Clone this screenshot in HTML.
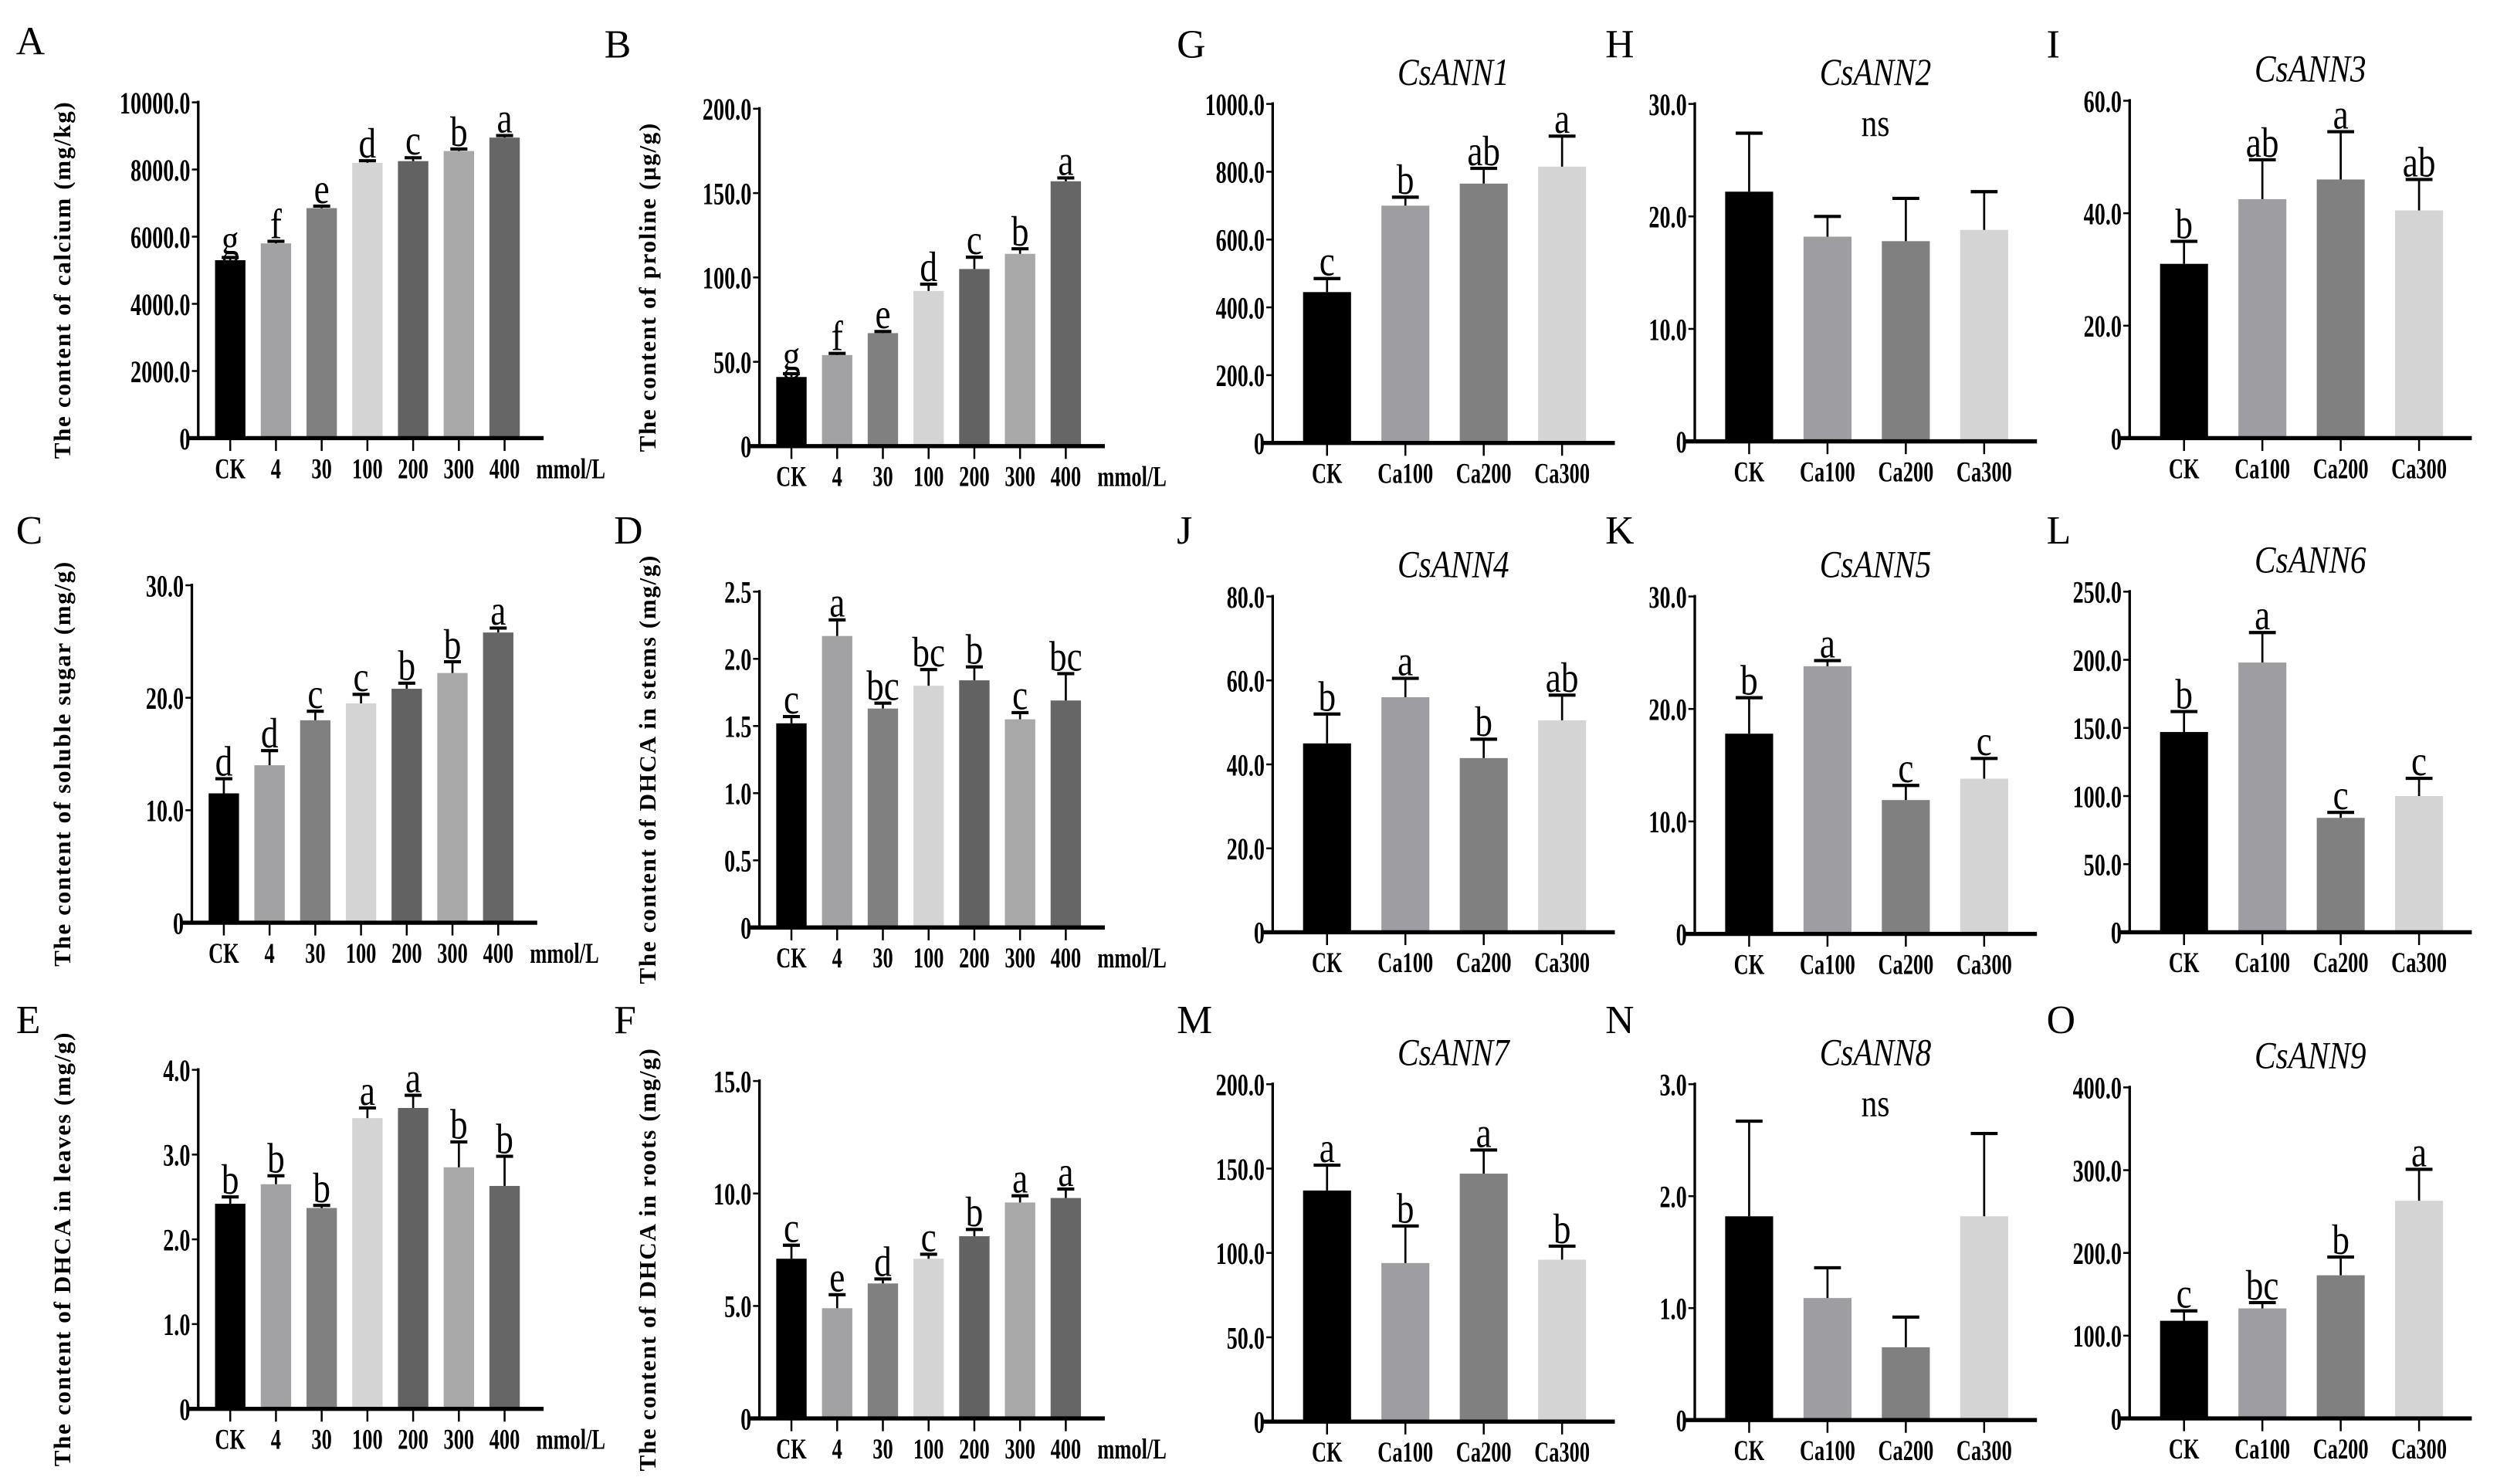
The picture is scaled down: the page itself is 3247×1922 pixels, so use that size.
<!DOCTYPE html>
<html><head><meta charset="utf-8"><style>
html,body{margin:0;padding:0;background:#fff;}
svg{display:block;}
text{font-family:"Liberation Serif",serif;}
</style></head><body>
<svg id="fig" xmlns="http://www.w3.org/2000/svg" width="3247" height="1922" viewBox="0 0 1568 928" preserveAspectRatio="none"></svg>
<script>
const leftCats=["CK","4","30","100","200","300","400"];
const rightCats=["CK","Ca100","Ca200","Ca300"];
const leftColors=["#000","#a2a2a4","#808080","#d4d4d4","#626262","#a8a8a8","#666"];
const rightColors=["#000","#9e9ea2","#808080","#d4d4d4"];

const aVals=[5300,5800,6850,8200,8250,8550,8950];
const aErr=[80,60,60,60,100,60,60];
const aLet=["g","f","e","d","c","b","a"];
const aTicks=[0,2000,4000,6000,8000,10000];
const bVals=[41,54,67,92,105,114,157];
const bErr=[2,1,1,4,7,3,2];
const bLet=["g","f","e","d","c","b","a"];
const bTicks=[0,50,100,150,200];
const cVals=[11.5,14,18,19.5,20.8,22.2,25.8];
const cErr=[1.3,1.3,0.8,0.8,0.5,1,0.4];
const cLet=["d","d","c","c","b","b","a"];
const cTicks=[0,10,20,30];
const dVals=[1.52,2.17,1.63,1.8,1.84,1.55,1.69];
const dErr=[0.05,0.12,0.04,0.12,0.1,0.05,0.2];
const dLet=["c","a","bc","bc","b","c","bc"];
const dTicks=[0,0.5,1,1.5,2,2.5];
const eVals=[2.42,2.65,2.37,3.43,3.55,2.85,2.63];
const eErr=[0.08,0.1,0.03,0.12,0.15,0.3,0.35];
const eLet=["b","b","b","a","a","b","b"];
const eTicks=[0,1,2,3,4];
const fVals=[7.1,4.9,6.0,7.1,8.1,9.6,9.8];
const fErr=[0.6,0.6,0.2,0.2,0.3,0.3,0.4];
const fLet=["c","e","d","c","b","a","a"];
const fTicks=[0,5,10,15];
const gVals=[445,700,765,815];
const gErr=[40,25,45,90];
const gLet=["c","b","ab","a"];
const gTicks=[0,200,400,600,800,1000];
const hVals=[22.2,18.2,17.8,18.8];
const hErr=[5.2,1.8,3.8,3.4];
const hTicks=[0,10,20,30];
const iVals=[31,42.5,46,40.5];
const iErr=[4,7,8.5,5.5];
const iLet=["b","ab","a","ab"];
const iTicks=[0,20,40,60];
const jVals=[45,56,41.5,50.5];
const jErr=[7,4.5,4.5,6];
const jLet=["b","a","b","ab"];
const jTicks=[0,20,40,60,80];
const kVals=[17.8,23.8,11.9,13.8];
const kErr=[3.2,0.5,1.3,1.8];
const kLet=["b","a","c","c"];
const kTicks=[0,10,20,30];
const lVals=[147,198,84,100];
const lErr=[15,22,4,13];
const lLet=["b","a","c","c"];
const lTicks=[0,50,100,150,200,250];
const mVals=[137,94,147,96];
const mErr=[15,22,14,8];
const mLet=["a","b","a","b"];
const mTicks=[0,50,100,150,200];
const nVals=[1.82,1.09,0.65,1.82];
const nErr=[0.85,0.27,0.27,0.74];
const nTicks=[0,1,2,3];
const oVals=[118,133,173,263];
const oErr=[12,7,22,38];
const oLet=["c","bc","b","a"];
const oTicks=[0,100,200,300,400];

const svg=document.getElementById('fig');
const NS="http://www.w3.org/2000/svg";
function mk(tag,attrs,parent){const e=document.createElementNS(NS,tag);for(const k in attrs)e.setAttribute(k,attrs[k]);(parent||svg).appendChild(e);return e;}
function fmt(v){return v===0?"0":v.toFixed(1);}
function sq(x,y,sx,sy){return `translate(${x},${y}) scale(${sx},${sy}) translate(${-x},${-y})`;}

function panel(p){
  const g=mk('g',{});
  
  
  const max=p.ticks[p.ticks.length-1];
  const ys=v=>p.y0-(v/max)*(p.y0-p.yTop);
  const n=p.vals.length;
  const xs=i=>p.x0+p.first+i*p.step;
  const pl=mk('text',{x:p.lx,y:p.ly,'font-size':25},g);pl.textContent=p.letter;
  
  
  for(let i=0;i<n;i++){
    const top=ys(p.vals[i]);
    const r=mk('rect',{x:xs(i)-p.bw/2,y:top,width:p.bw,height:p.y0-top,fill:p.colors[i]},g);
    
    
    const et=ys(p.vals[i]+p.err[i]);
    mk('line',{x1:xs(i),x2:xs(i),y1:top,y2:et,stroke:'#000','stroke-width':1.3},g);
    mk('line',{x1:xs(i)-p.bw*0.28,x2:xs(i)+p.bw*0.28,y1:et,y2:et,stroke:'#000','stroke-width':2},g);
    if(p.lets){
      const t=mk('text',{x:xs(i),y:et-2,'text-anchor':'middle','font-size':p.lfs,transform:sq(xs(i),et-2,0.95,1.15)},g);
      t.textContent=p.lets[i];
      
      
    }
    mk('line',{x1:xs(i),x2:xs(i),y1:p.y0,y2:p.y0+8,stroke:'#000','stroke-width':1.2},g);
    const xl=mk('text',{x:xs(i),y:p.y0+p.xlo,'text-anchor':'middle','font-size':15,'font-weight':'bold',transform:sq(xs(i),p.y0+p.xlo,0.85,1.2)},g);
    xl.textContent=p.cats[i];
    
    
  }
  mk('line',{x1:p.x0,x2:p.x0,y1:p.yTop-1,y2:p.y0,stroke:'#000','stroke-width':1.6},g);
  mk('line',{x1:p.x0-6,x2:p.xEnd,y1:p.y0,y2:p.y0,stroke:'#000','stroke-width':2.6},g);
  p.ticks.forEach(tv=>{
    const y=ys(tv);
    mk('line',{x1:p.x0-4,x2:p.x0,y1:y,y2:y,stroke:'#000','stroke-width':1.2},g);
    const t=mk('text',{x:p.x0-5,y:y+6,'text-anchor':'end','font-size':17,'font-weight':'bold',transform:sq(p.x0-5,y,0.8,1.15)},g);
    t.textContent=fmt(tv);
    
    
  });
  if(p.unit){
    const u=mk('text',{x:p.unitX,y:p.y0+p.xlo,'text-anchor':'middle','font-size':15,'font-weight':'bold',transform:sq(p.unitX,p.y0+p.xlo,0.85,1.2)},g);
    u.textContent='mmol/L';
    
    
  }
  if(p.ytitle){
    const cx=p.x0-p.tOff, cy=(p.yTop+p.y0)/2+6;
    const t=mk('text',{x:cx,y:cy,'text-anchor':'middle','font-size':15,'font-weight':'bold',transform:`rotate(-90 ${cx} ${cy})`,'letter-spacing':'0.8'},g);
    t.textContent=p.ytitle;
    
    
  }
  if(p.title){
    const tx=(p.x0+p.xEnd)/2+6, ty=p.yTop-12;
    const t=mk('text',{x:tx,y:ty,'text-anchor':'middle','font-size':21,'font-style':'italic',transform:sq(tx,ty,0.95,1.15)},g);
    t.textContent=p.title;
    
    
  }
  if(p.ns){
    const tx=(p.x0+p.xEnd)/2+6, ty=p.yTop+20;
    const t=mk('text',{x:tx,y:ty,'text-anchor':'middle','font-size':21,transform:sq(tx,ty,0.95,1.15)},g);
    t.textContent='ns';
    
    
  }
}
function left(letter,lx,ly,x0,yTop,y0,vals,err,lets,ticks,ytitle,tOff){
  panel({letter,lx,ly,x0,yTop,y0,vals,err,lets,ticks,ytitle,tOff,cats:leftCats,colors:leftColors,first:20,step:28.6,bw:19,xEnd:x0+216,xlo:25,lfs:23,unit:true,unitX:x0+233});
}
function right(letter,lx,ly,x0,yTop,y0,vals,err,lets,ticks,title,ns){
  panel({letter,lx,ly,x0,yTop,y0,vals,err,lets,ticks,title,ns,cats:rightCats,colors:rightColors,first:34,step:49,bw:30,xEnd:x0+214,xlo:25,lfs:23});
}
left('A',10,34,124,64,274,aVals,aErr,aLet,aTicks,'The content of calcium (mg/kg)',80);
left('B',378,36,475,68,279,bVals,bErr,bLet,bTicks,'The content of proline (μg/g)',65);
left('C',10,340,120,366,577,cVals,cErr,cLet,cTicks,'The content of soluble sugar (mg/g)',76);
left('D',384,340,475,370,580,dVals,dErr,dLet,dTicks,'The content of DHCA in stems (mg/g)',65);
left('E',10,646,124,669,881,eVals,eErr,eLet,eTicks,'The content of DHCA in leaves (mg/g)',80);
left('F',384,646,475,676,887,fVals,fErr,fLet,fTicks,'The content of DHCA in roots (mg/g)',65);
right('G',736,36,796,65,277,gVals,gErr,gLet,gTicks,'CsANN1',false);
right('H',1004,36,1060,65,276,hVals,hErr,null,hTicks,'CsANN2',true);
right('I',1280,36,1332,63,274,iVals,iErr,iLet,iTicks,'CsANN3',false);
right('J',736,340,796,373,583,jVals,jErr,jLet,jTicks,'CsANN4',false);
right('K',1004,340,1060,373,584,kVals,kErr,kLet,kTicks,'CsANN5',false);
right('L',1280,340,1332,370,583,lVals,lErr,lLet,lTicks,'CsANN6',false);
right('M',736,646,796,678,889,mVals,mErr,mLet,mTicks,'CsANN7',false);
right('N',1004,646,1060,678,888,nVals,nErr,null,nTicks,'CsANN8',true);
right('O',1280,646,1332,680,887,oVals,oErr,oLet,oTicks,'CsANN9',false);
</script>
</body></html>
